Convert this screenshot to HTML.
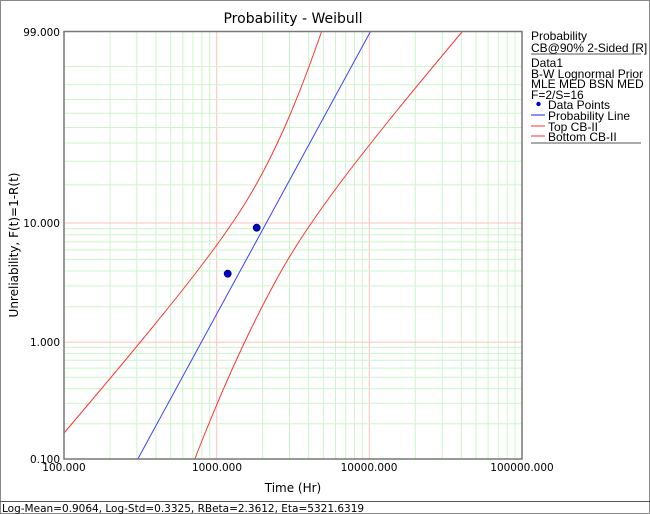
<!DOCTYPE html>
<html><head><meta charset="utf-8"><style>
html,body{margin:0;padding:0;background:#fff}
svg{display:block;font-family:"DejaVu Sans","Liberation Sans",sans-serif}
</style></head><body>
<svg id="s" width="650" height="514" viewBox="0 0 650 514" xmlns="http://www.w3.org/2000/svg">
<rect x="0.5" y="0.5" width="649" height="513" fill="#fff" stroke="#888"/>
<g id="grid"></g>
<text x="293" y="23" font-size="14" text-anchor="middle" fill="#000">Probability - Weibull</text>
<g font-size="10.5" fill="#000" text-anchor="end">
<text x="60" y="36">99.000</text>
<text x="60" y="227">10.000</text>
<text x="60" y="346">1.000</text>
<text x="60" y="463">0.100</text>
</g>
<g font-size="10.5" fill="#000" text-anchor="middle">
<text x="64" y="471">100.000</text>
<text x="217" y="471">1000.000</text>
<text x="369" y="471">10000.000</text>
<text x="522" y="471">100000.000</text>
</g>
<text x="293" y="492" font-size="12" text-anchor="middle">Time (Hr)</text>
<text transform="translate(18,245) rotate(-90)" font-size="12" text-anchor="middle">Unreliability, F(t)=1-R(t)</text>
<clipPath id="cp"><rect x="64" y="31.5" width="458" height="427.5"/></clipPath>
<g clip-path="url(#cp)">
<polyline id="c1" fill="none" stroke="#ff3333" stroke-width="1"/>
<polyline id="c2" fill="none" stroke="#ff3333" stroke-width="1"/>
</g>
<line x1="137.8" y1="459" x2="370.5" y2="31.5" stroke="#4040ff" stroke-width="1"/>
<circle cx="227.7" cy="273.7" r="3.6" fill="#0000cc" stroke="#000040" stroke-width="0.6"/>
<circle cx="256.7" cy="227.7" r="3.6" fill="#0000cc" stroke="#000040" stroke-width="0.6"/>
<rect x="64" y="31.5" width="458" height="427.5" fill="none" stroke="#777" stroke-width="1.5"/>
<g font-size="12" fill="#000" font-family="Liberation Sans, sans-serif">
<text x="531" y="40">Probability</text>
<text x="531" y="52">CB@90% 2-Sided [R]</text>
<line x1="531" y1="54" x2="641" y2="54" stroke="#555"/>
<text x="531" y="67">Data1</text>
<text x="531" y="78">B-W Lognormal Prior</text>
<text x="531" y="88">MLE MED BSN MED</text>
<text x="531" y="99">F=2/S=16</text>
<circle cx="538.5" cy="104" r="2.2" fill="#0000cc"/>
<text x="548" y="109">Data Points</text>
<line x1="531" y1="115" x2="545" y2="115" stroke="#6666ff" stroke-width="1.5"/>
<text x="548" y="120">Probability Line</text>
<line x1="531" y1="126" x2="545" y2="126" stroke="#ff3333"/>
<text x="548" y="131">Top CB-II</text>
<line x1="531" y1="136" x2="545" y2="136" stroke="#ff3333"/>
<text x="548" y="141">Bottom CB-II</text>
<line x1="531" y1="143" x2="641" y2="143" stroke="#555"/>
</g>
<line x1="0" y1="501.5" x2="650" y2="501.5" stroke="#555"/>
<text x="2" y="512" font-size="10.5" fill="#000">Log-Mean=0.9064, Log-Std=0.3325, RBeta=2.3612, Eta=5321.6319</text>
</svg>
<script>
(function(){
var g=document.getElementById('grid'),h='';
var X0=64,X1=522,Y0=31.5,Y1=459;
function xv(t){return X0+(Math.log10(t)-2)*152.67;}
var top=Math.log(-Math.log(0.01)),bot=Math.log(-Math.log(0.999));
function yv(F){var v=Math.log(-Math.log(1-F));return Y0+(top-v)/(top-bot)*(Y1-Y0);}
for(var d=100;d<100000;d*=10){for(var k=2;k<=9;k++){var x=xv(d*k).toFixed(1);h+='<line x1="'+x+'" y1="'+Y0+'" x2="'+x+'" y2="'+Y1+'" stroke="#ccf5cc" stroke-width="1"/>';}}
[1000,10000].forEach(function(t){var x=xv(t).toFixed(1);h+='<line x1="'+x+'" y1="'+Y0+'" x2="'+x+'" y2="'+Y1+'" stroke="#ffc0c0" stroke-width="1"/>';});
[0.002,0.003,0.004,0.005,0.006,0.007,0.008,0.009,0.02,0.03,0.04,0.05,0.06,0.07,0.08,0.09,0.2,0.3,0.4,0.5,0.6,0.7,0.8,0.9].forEach(function(F){var y=yv(F).toFixed(1);h+='<line x1="'+X0+'" y1="'+y+'" x2="'+X1+'" y2="'+y+'" stroke="#ccf5cc" stroke-width="1"/>';});
[0.01,0.1].forEach(function(F){var y=yv(F).toFixed(1);h+='<line x1="'+X0+'" y1="'+y+'" x2="'+X1+'" y2="'+y+'" stroke="#ffc0c0" stroke-width="1"/>';});
g.innerHTML=h;
function xb(y){return 137.8+(459-y)*0.5443;}
var p1=[],p2=[];
for(var y=Y0-2;y<=Y1+2;y+=2){
 var dy=y-180,b=dy>0?0.1057:0.065;
 var d1=Math.sqrt(961+b*dy*dy);
 p1.push((xb(y)-d1).toFixed(1)+','+y.toFixed(1));
 var ey=y-280,b2=ey>0?0.0489:0.1097;
 var d2=Math.sqrt(1681+b2*ey*ey);
 p2.push((xb(y)+d2).toFixed(1)+','+y.toFixed(1));
}
document.getElementById('c1').setAttribute('points',p1.join(' '));
document.getElementById('c2').setAttribute('points',p2.join(' '));
})();
</script>
</body></html>
